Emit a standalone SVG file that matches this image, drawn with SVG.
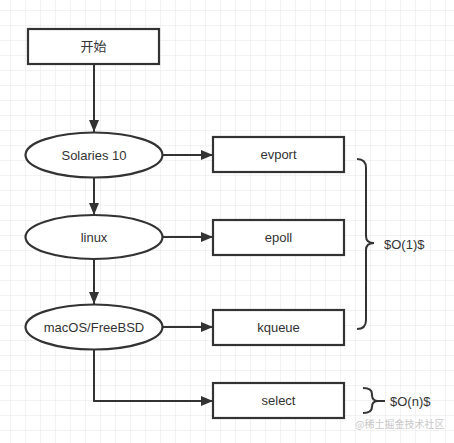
<svg xmlns="http://www.w3.org/2000/svg" width="454" height="443" viewBox="0 0 454 443">
<defs>
<pattern id="grid" x="10" y="10" width="15" height="15" patternUnits="userSpaceOnUse">
<path d="M0 0H15M0 0V15" fill="none" stroke="#e6e6e6" stroke-width="1"/>
</pattern>
<marker id="arr" viewBox="0 0 12 10" refX="12" refY="5" markerWidth="12" markerHeight="10" markerUnits="userSpaceOnUse" orient="auto">
<path d="M0 0L12 5L0 10Z" fill="#333"/>
</marker>
<style>
.box{fill:#fff;stroke:#333;stroke-width:2.2}
.lbl{font-family:"Liberation Sans","Noto Sans CJK SC",sans-serif;font-size:13px;fill:#333;text-anchor:middle}
.edge{fill:none;stroke:#333;stroke-width:2;marker-end:url(#arr)}
.brace{fill:none;stroke:#333;stroke-width:2}
.note{font-family:"Liberation Sans",sans-serif;font-size:13px;fill:#333}
</style>
</defs>
<rect x="0" y="0" width="454" height="443" fill="#fff"/>
<rect x="0" y="0" width="454" height="443" fill="url(#grid)"/>
<g id="connectors">
<path class="edge" d="M94 64V132"/>
<path class="edge" d="M94 178V215"/>
<path class="edge" d="M94 259V304"/>
<path class="edge" d="M163 155H213"/>
<path class="edge" d="M163 237H213"/>
<path class="edge" d="M163 327H213"/>
<path class="edge" d="M94 350V401H213"/>
</g>
<g id="start"><rect class="box" x="28" y="29" width="131" height="35"/><text class="lbl" x="93.5" y="51">开始</text></g>
<g id="solaris"><ellipse class="box" cx="94" cy="155" rx="68.5" ry="22.5"/><text class="lbl" x="94" y="160">Solaries 10</text></g>
<g id="linux"><ellipse class="box" cx="94" cy="237" rx="68.5" ry="22"/><text class="lbl" x="94" y="242">linux</text></g>
<g id="macos"><ellipse class="box" cx="94" cy="327" rx="68.5" ry="22.5"/><text class="lbl" x="94" y="332">macOS/FreeBSD</text></g>
<g id="evport"><rect class="box" x="213" y="137" width="131" height="35"/><text class="lbl" x="278.5" y="159">evport</text></g>
<g id="epoll"><rect class="box" x="213" y="220" width="131" height="35"/><text class="lbl" x="278.5" y="242">epoll</text></g>
<g id="kqueue"><rect class="box" x="213" y="310" width="131" height="35"/><text class="lbl" x="278.5" y="332">kqueue</text></g>
<g id="select"><rect class="box" x="213" y="383" width="131" height="35"/><text class="lbl" x="278.5" y="405">select</text></g>
<g id="brace-o1">
<path class="brace" d="M357 159Q366 159 366 168V236Q366 243 374 243Q366 243 366 250V320Q366 329 357 329"/>
<text class="note" x="384" y="249">$O(1)$</text>
</g>
<g id="brace-on">
<path class="brace" d="M363 388Q372 388 372 394V395Q372 401 378 401H385M378 401Q372 401 372 407V407Q372 413 363 413"/>
<text class="note" x="390" y="406">$O(n)$</text>
</g>
<text x="355" y="428" font-family="'Noto Sans CJK SC',sans-serif" font-size="10" fill="#c8c8c8">@稀土掘金技术社区</text>
</svg>
